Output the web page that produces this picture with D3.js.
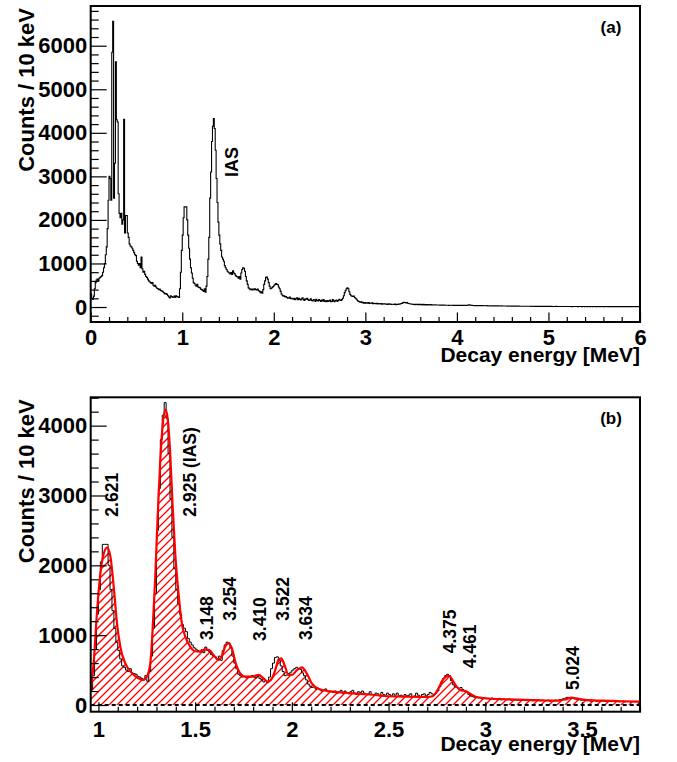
<!DOCTYPE html>
<html><head><meta charset="utf-8">
<script src="https://cdn.jsdelivr.net/npm/d3@7"></script>
<style>
body{margin:0;background:#fff}
svg text{font-family:"Liberation Sans",Arial,Helvetica,sans-serif;font-weight:bold;fill:#000}
</style>
</head><body>
<svg id="chart" width="677" height="762"></svg>
<script>
// ---------------- DATA ----------------
const binWidth = 0.01; // MeV (10 keV bins), bins start at 0 MeV
const counts = [
300,200,180,250,420,560,620,640,600,660,
680,700,720,800,900,1000,1200,1380,1800,2450,
3000,2950,2450,5850,6560,2500,3300,5630,4300,4250,
2600,2150,2050,2150,1900,2000,4310,1700,2100,2100,
1700,1600,1450,1400,1380,1350,1300,1250,1200,1180,
1050,1000,960,1000,900,1150,880,800,820,750,
700,680,640,600,580,560,540,560,500,480,
500,460,430,420,400,410,380,370,360,340,
320,300,310,290,260,230,210,260,240,220,
230,250,220,260,240,230,220,420,800,1300,
1650,2050,2300,2300,2300,2000,1650,1350,1100,900,
780,660,560,540,500,480,520,460,450,440,
410,400,380,360,420,340,480,700,1100,1600,
2500,3100,3800,4150,4330,4100,3600,2950,2400,1950,
1650,1450,1300,1150,1100,1050,950,900,860,820,
800,780,760,790,750,830,780,760,720,700,
690,660,700,640,780,860,900,890,820,700,
600,520,440,420,400,410,390,410,400,420,
400,390,410,380,360,330,350,320,400,520,
600,680,690,640,560,480,420,430,450,470,
500,520,540,520,510,460,420,360,300,270,
250,260,230,240,220,200,210,230,190,200,
190,180,200,170,190,210,170,200,180,160,
190,210,170,150,190,180,200,170,150,160,
190,150,140,170,160,130,180,150,140,170,
150,130,160,140,170,130,140,120,150,130,
140,160,120,130,170,140,120,150,160,130,
150,180,160,150,170,200,260,330,380,420,
440,420,350,290,260,250,240,250,220,200,
180,150,130,120,110,120,100,110,90,100,
90,95,85,100,80,90,85,95,75,85,
80,75,85,70,80,75,70,80,65,75,
70,75,65,70,60,75,65,70,60,65,
65,60,70,55,65,60,70,65,75,80,
90,100,110,105,95,100,85,80,75,70,
70,65,60,65,55,60,65,55,60,55,
60,55,50,60,55,50,55,50,55,45,
50,55,45,50,48,45,50,45,48,45,
45,42,46,40,44,41,43,39,42,40,
41,38,42,39,40,37,41,38,36,39,
38,36,40,37,35,38,36,39,35,37,
36,40,44,50,48,42,38,35,36,33,
35,32,34,31,33,30,32,30,31,29,
30,28,31,29,27,30,28,26,29,27,
26,28,25,27,24,26,25,23,26,24,
23,25,22,24,23,21,23,22,20,22,
21,20,22,19,21,20,18,20,19,18,
19,17,19,18,16,18,17,16,18,16,
17,15,17,16,15,16,14,16,15,14,
15,14,16,13,15,14,13,15,13,14,
13,14,12,14,13,12,13,12,14,12,
13,12,11,13,12,11,12,13,11,12,
11,12,13,11,12,10,12,11,13,11,
12,11,10,12,11,13,10,12,11,10,
11,12,10,11,13,10,11,12,10,11,
12,10,11,10,12,11,10,11,12,10,
11,10,12,11,10,11,9,11,10,12,
10,11,9,10,11,10,12,10,9,11,
10,11,10,9,11,10,9,10,11,10,
9,10,11,10,9,10,11,9,10,10
];
const fitEnergy = [0.96,0.975,0.992,1.01,1.028,1.045,1.062,1.079,1.096,1.113,1.139,1.174,1.208,1.23,1.25,1.268,1.28,1.293,1.307,1.319,1.333,1.347,1.359,1.371,1.383,1.397,1.414,1.431,1.449,1.474,1.5,1.526,1.552,1.573,1.595,1.621,1.638,1.655,1.672,1.69,1.71,1.733,1.759,1.793,1.828,1.854,1.876,1.897,1.914,1.931,1.945,1.962,1.983,2.0,2.026,2.052,2.077,2.103,2.14,2.2,2.3,2.4,2.5,2.6,2.7,2.73,2.76,2.78,2.8,2.815,2.83,2.85,2.87,2.9,2.92,2.95,3.0,3.1,3.2,3.3,3.38,3.42,3.445,3.47,3.52,3.6,3.7,3.8];
const fitCounts = [215,595,1308,1885,2172,2253,2125,1695,1170,835,595,453,380,358,405,595,1073,1790,2745,3461,4034,4230,4080,3604,2888,2172,1599,1170,979,835,770,764,797,788,716,645,700,835,883,812,595,453,405,405,430,380,334,380,500,645,668,573,430,430,500,540,453,310,230,195,170,150,125,118,115,130,250,358,410,415,360,270,215,195,165,119,97,82,72,65,62,85,105,95,72,62,54,48];
const peakLabels = ["2.621","2.925 (IAS)","3.148","3.254","3.410","3.522","3.634","4.375","4.461","5.024"];
const peakLabelEnergy = [1.103,1.504,1.594,1.711,1.866,1.987,2.104,2.849,2.952,3.486];
const peakLabelCounts = [2697,2697,931,1207,917,1207,931,740,526,215];
const iasLabel = "IAS", iasLabelEnergy = 1.609, iasLabelCounts = 2985;
const xMajorA = [0,1,2,3,4,5,6];
const yMajorA = [0,1000,2000,3000,4000,5000,6000];
const xMajorB = [1,1.5,2,2.5,3,3.5];
const yMajorB = [0,1000,2000,3000,4000];
const xTitle = "Decay energy [MeV]";
const yTitle = "Counts / 10 keV";

// ---------------- LAYOUT ----------------
const svg = d3.select("#chart");
const L = 90.7, R = 640;
const panels = [
  {id:"a", top:6, bottom:322, xd:[0,6], yd:[-344,6912], xMaj:xMajorA, xMinStep:0.2, yMaj:yMajorA, tag:"(a)", pad:7},
  {id:"b", top:397.3, bottom:711.7, xd:[0.96,3.8], yd:[-96,4406], xMaj:xMajorB, xMinStep:0.1, yMaj:yMajorB, tag:"(b)", pad:10}
];
const defs = svg.append("defs");
const binData = counts.map((c,i)=>({e:i*binWidth, c}));

panels.forEach(p=>{
  const x = d3.scaleLinear().domain(p.xd).range([L,R]);
  const y = d3.scaleLinear().domain(p.yd).range([p.bottom,p.top]);
  const g = svg.append("g");
  defs.append("clipPath").attr("id","clip"+p.id).append("rect")
    .attr("x",L).attr("y",p.top).attr("width",R-L).attr("height",p.bottom-p.top);
  const plot = g.append("g").attr("clip-path",`url(#clip${p.id})`);

  const pts = binData.filter(d=>d.e>=p.xd[0]-binWidth+1e-9 && d.e<p.xd[1]-1e-9);
  const last = pts[pts.length-1];
  const stepPts = pts.concat([{e:last.e+binWidth, c:last.c}]);
  const stepLine = d3.line().x(d=>x(d.e)).y(d=>y(d.c)).curve(d3.curveStepAfter);

  if(p.id==="b"){
    const fit = fitEnergy.map((e,i)=>({e, c:fitCounts[i]}));
    const areaGen = d3.area().x(d=>x(d.e)).y0(y(0)).y1(d=>y(d.c)).curve(d3.curveMonotoneX);
    defs.append("clipPath").attr("id","fitclip").append("path").datum(fit).attr("d",areaGen);
    const hatch = plot.append("g").attr("clip-path","url(#fitclip)");
    const H = p.bottom - p.top;
    const hatchStarts = d3.range(L - H - 10, R + 10, 8);
    hatch.selectAll("line").data(hatchStarts).join("line")
      .attr("x1",d=>d).attr("y1",p.bottom).attr("x2",d=>d+H).attr("y2",p.top)
      .style("stroke","#ff0000").style("stroke-width","1.3px");
    plot.append("line").attr("x1",L).attr("x2",R).attr("y1",y(0)).attr("y2",y(0))
      .attr("stroke","#000").attr("stroke-width",2).attr("stroke-dasharray","4,3");
    plot.append("path").datum(stepPts).attr("d",stepLine)
      .attr("fill","none").attr("stroke","#000").attr("stroke-width",1);
    plot.append("path").datum(fit)
      .attr("d", d3.line().x(d=>x(d.e)).y(d=>y(d.c)).curve(d3.curveMonotoneX))
      .attr("fill","none").attr("stroke","#ff0000").attr("stroke-width",2.2);
    peakLabels.forEach((t,i)=>{
      g.append("text").attr("transform",`translate(${x(peakLabelEnergy[i])},${y(peakLabelCounts[i])}) rotate(-90)`)
        .attr("font-size",17.5).text(t);
    });
  } else {
    plot.append("path").datum(stepPts).attr("d",stepLine)
      .attr("fill","none").attr("stroke","#000").attr("stroke-width",1.1);
    g.append("text").attr("transform",`translate(${x(iasLabelEnergy)},${y(iasLabelCounts)}) rotate(-90)`)
      .attr("font-size",18).text(iasLabel);
  }

  // axes
  const minorX = [];
  for(let v=Math.ceil(p.xd[0]/p.xMinStep-1e-9)*p.xMinStep; v<=p.xd[1]+1e-9; v+=p.xMinStep){
    const r = Math.round(v*100)/100;
    if(!p.xMaj.some(m=>Math.abs(m-r)<1e-6)) minorX.push(r);
  }
  const minorY = [];
  for(let v=Math.ceil(p.yd[0]/200)*200; v<=p.yd[1]; v+=200){ if(v%1000!==0) minorY.push(v); }
  const fs = 22;
  const gx = g.append("g").attr("transform",`translate(0,${p.bottom})`);
  gx.append("g").call(d3.axisBottom(x).tickValues(minorX).tickSize(-5).tickFormat(""));
  gx.append("g").call(d3.axisBottom(x).tickValues(p.xMaj).tickSize(-9.5).tickPadding(p.pad).tickFormat(d=>String(d)));
  const gy = g.append("g").attr("transform",`translate(${L},0)`);
  gy.append("g").call(d3.axisLeft(y).tickValues(minorY).tickSize(-8).tickFormat(""));
  gy.append("g").call(d3.axisLeft(y).tickValues(p.yMaj).tickSize(-16).tickPadding(3.5).tickFormat(d=>String(d)));
  g.selectAll(".domain").remove();
  g.selectAll(".tick line").attr("stroke","#000").attr("stroke-width",1.2);
  g.selectAll(".tick text").attr("font-size",fs).attr("font-family",null).attr("fill","#000");

  g.append("rect").attr("x",L).attr("y",p.top).attr("width",R-L).attr("height",p.bottom-p.top)
    .attr("fill","none").attr("stroke","#000").attr("stroke-width",2);

  g.append("text").attr("x",R).attr("y",p.bottom+39.5).attr("text-anchor","end").attr("font-size",21).text(xTitle);
  g.append("text").attr("transform",`translate(33.5,${p.top+2}) rotate(-90)`).attr("text-anchor","end")
    .attr("font-size",22).text(yTitle);
  g.append("text").attr("x",611).attr("y",p.top+27).attr("text-anchor","middle").attr("font-size",17).text(p.tag);
});
</script>
</body></html>
